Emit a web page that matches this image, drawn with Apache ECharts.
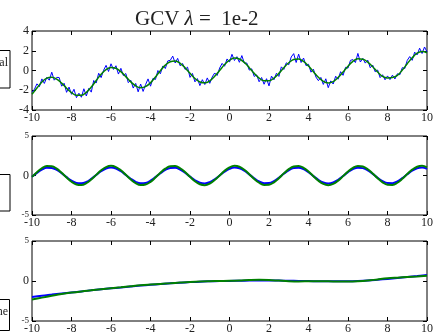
<!DOCTYPE html>
<html>
<head>
<meta charset="utf-8">
<script src="https://cdn.jsdelivr.net/npm/echarts@6/dist/echarts.min.js"></script>
<style>html,body{margin:0;padding:0;background:#fff;}#c{width:436px;height:336px;}</style>
</head>
<body>
<div id="c"></div>
<script>
// x sample positions
const xFine = [-10,-9.875,-9.75,-9.625,-9.5,-9.375,-9.25,-9.125,-9,-8.875,-8.75,-8.625,-8.5,-8.375,-8.25,-8.125,-8,-7.875,-7.75,-7.625,-7.5,-7.375,-7.25,-7.125,-7,-6.875,-6.75,-6.625,-6.5,-6.375,-6.25,-6.125,-6,-5.875,-5.75,-5.625,-5.5,-5.375,-5.25,-5.125,-5,-4.875,-4.75,-4.625,-4.5,-4.375,-4.25,-4.125,-4,-3.875,-3.75,-3.625,-3.5,-3.375,-3.25,-3.125,-3,-2.875,-2.75,-2.625,-2.5,-2.375,-2.25,-2.125,-2,-1.875,-1.75,-1.625,-1.5,-1.375,-1.25,-1.125,-1,-0.875,-0.75,-0.625,-0.5,-0.375,-0.25,-0.125,0,0.125,0.25,0.375,0.5,0.625,0.75,0.875,1,1.125,1.25,1.375,1.5,1.625,1.75,1.875,2,2.125,2.25,2.375,2.5,2.625,2.75,2.875,3,3.125,3.25,3.375,3.5,3.625,3.75,3.875,4,4.125,4.25,4.375,4.5,4.625,4.75,4.875,5,5.125,5.25,5.375,5.5,5.625,5.75,5.875,6,6.125,6.25,6.375,6.5,6.625,6.75,6.875,7,7.125,7.25,7.375,7.5,7.625,7.75,7.875,8,8.125,8.25,8.375,8.5,8.625,8.75,8.875,9,9.125,9.25,9.375,9.5,9.625,9.75,9.875,10];
const xMid = [-10,-9.75,-9.5,-9.25,-9,-8.75,-8.5,-8.25,-8,-7.75,-7.5,-7.25,-7,-6.75,-6.5,-6.25,-6,-5.75,-5.5,-5.25,-5,-4.75,-4.5,-4.25,-4,-3.75,-3.5,-3.25,-3,-2.75,-2.5,-2.25,-2,-1.75,-1.5,-1.25,-1,-0.75,-0.5,-0.25,0,0.25,0.5,0.75,1,1.25,1.5,1.75,2,2.25,2.5,2.75,3,3.25,3.5,3.75,4,4.25,4.5,4.75,5,5.25,5.5,5.75,6,6.25,6.5,6.75,7,7.25,7.5,7.75,8,8.25,8.5,8.75,9,9.25,9.5,9.75,10];
const xCoarse = [-10,-9.5,-9,-8.5,-8,-7.5,-7,-6.5,-6,-5.5,-5,-4.5,-4,-3.5,-3,-2.5,-2,-1.5,-1,-0.5,0,0.5,1,1.5,2,2.5,3,3.5,4,4.5,5,5.5,6,6.5,7,7.5,8,8.5,9,9.5,10];

// Panel 1: noisy signal (blue) and fit (green)
const signalNoisy = [-2.20,-1.89,-1.35,-1.64,-0.85,-1.31,-0.69,-0.98,-0.17,-0.98,-0.70,-0.71,-1.59,-1.29,-2.21,-1.68,-2.41,-1.90,-2.75,-2.30,-2.71,-1.85,-2.58,-1.81,-2.19,-1.01,-1.27,-0.28,-0.72,0.03,0.52,-0.10,0.68,0.11,0.48,-0.36,0.22,-0.51,-0.31,-1.23,-0.98,-1.78,-1.31,-2.16,-1.37,-2.12,-1.43,-0.85,-1.59,-0.79,-0.91,0.00,-0.33,0.46,0.20,0.97,1.03,1.46,0.76,1.23,0.48,0.71,0.11,0.34,-0.70,-0.30,-1.15,-0.82,-1.53,-0.93,-1.42,-0.75,-1.30,-0.65,-0.25,-0.50,0.25,0.72,0.43,1.17,0.85,1.64,1.01,1.40,0.83,1.51,0.74,0.76,0.04,0.17,-0.60,-0.45,-1.14,-0.71,-1.39,-0.83,-1.56,-0.57,-0.94,-0.28,-0.60,0.37,0.11,0.78,0.58,1.37,1.71,0.81,1.66,0.81,1.26,0.49,0.63,-0.17,0.13,-0.66,-1.03,-0.70,-1.41,-0.84,-1.74,-1.05,-1.37,-0.58,-0.88,-0.12,-0.49,0.32,0.24,1.03,1.10,0.81,1.73,0.86,1.23,0.75,1.05,0.28,0.55,-0.13,0.05,-0.72,-0.43,-0.94,-0.55,-0.92,-0.47,-0.86,-0.33,-0.43,0.29,0.20,1.03,1.41,1.03,1.86,1.58,2.26,1.72,2.38,1.88];
const signalFit = [-2.40,-1.77,-1.16,-0.77,-0.68,-0.87,-1.28,-1.79,-2.24,-2.51,-2.51,-2.21,-1.68,-1.02,-0.38,0.10,0.31,0.23,-0.12,-0.62,-1.15,-1.56,-1.74,-1.63,-1.25,-0.66,-0.02,0.54,0.89,0.96,0.73,0.28,-0.28,-0.81,-1.16,-1.25,-1.05,-0.59,0.00,0.60,1.05,1.26,1.17,0.82,0.29,-0.29,-0.77,-1.05,-1.05,-0.77,-0.29,0.28,0.78,1.11,1.16,0.92,0.46,-0.12,-0.69,-1.10,-1.26,-1.12,-0.71,-0.15,0.44,0.93,1.18,1.15,0.85,0.38,-0.15,-0.60,-0.75,-0.72,-0.50,0.04,0.69,1.28,1.75,1.92,1.80];

// Panel 2: periodic component, true (blue) and estimated (green)
const seasonTrue = [-0.15,0.34,0.75,0.98,0.96,0.71,0.29,-0.21,-0.65,-0.94,-0.99,-0.81,-0.42,0.07,0.54,0.88,1.00,0.88,0.54,0.07,-0.41,-0.80,-0.99,-0.94,-0.66,-0.21,0.28,0.71,0.96,0.98,0.76,0.35,-0.14,-0.60,-0.91,-1.00,-0.84,-0.48,0.00,0.48,0.84,1.00,0.91,0.60,0.14,-0.35,-0.76,-0.98,-0.96,-0.71,-0.28,0.22,0.66,0.94,0.99,0.80,0.41,-0.08,-0.55,-0.88,-1.00,-0.88,-0.54,-0.07,0.42,0.81,0.99,0.93,0.65,0.21,-0.29,-0.71,-0.96,-0.98,-0.75,-0.34,0.15,0.61,0.91,1.00,0.84];
const seasonFit = [-0.18,0.42,0.92,1.19,1.17,0.87,0.35,-0.25,-0.79,-1.14,-1.21,-0.98,-0.51,0.08,0.66,1.07,1.22,1.07,0.66,0.09,-0.50,-0.97,-1.21,-1.15,-0.81,-0.26,0.34,0.86,1.17,1.19,0.92,0.43,-0.17,-0.73,-1.11,-1.22,-1.03,-0.58,0.00,0.59,1.03,1.22,1.11,0.73,0.17,-0.43,-0.92,-1.19,-1.17,-0.86,-0.34,0.27,0.80,1.15,1.21,0.97,0.50,-0.09,-0.66,-1.07,-1.22,-1.07,-0.65,-0.08,0.51,0.98,1.21,1.14,0.79,0.25,-0.35,-0.87,-1.17,-1.19,-0.92,-0.42,0.19,0.74,1.11,1.22,1.02];

// Panel 3: trend, true (blue) and estimated (green)
const trendTrue = [-2.00,-1.84,-1.70,-1.56,-1.43,-1.30,-1.17,-1.04,-0.92,-0.80,-0.68,-0.57,-0.47,-0.38,-0.29,-0.21,-0.14,-0.08,-0.04,-0.01,0.01,0.03,0.05,0.06,0.06,0.05,0.03,0.01,-0.01,-0.03,-0.04,-0.04,-0.03,0.01,0.07,0.16,0.26,0.37,0.49,0.62,0.76];
const trendFit = [-2.30,-2.08,-1.85,-1.63,-1.45,-1.30,-1.17,-1.04,-0.91,-0.78,-0.65,-0.53,-0.44,-0.36,-0.28,-0.19,-0.11,-0.05,-0.02,0.00,0.02,0.06,0.12,0.15,0.12,0.05,-0.02,-0.05,-0.04,-0.03,-0.04,-0.06,-0.07,-0.03,0.06,0.20,0.33,0.42,0.50,0.57,0.65];

const xTicks = [-10,10,2];
const yTicksTop = [-4,4,2];
const yTicksLow = [-5,5,5];
const legendTexts = ['signal', '', 'baseline'];

const pair = (xs, ys) => xs.map((x, i) => [x, ys[i]]);
const FONT = 'Liberation Serif';
const labelStyle = {fontFamily: FONT, fontSize: 12, color: '#222'};

const grids = [
  {left: 32, right: 3, top: 31, height: 79},
  {left: 32, right: 3, top: 136, height: 79},
  {left: 32, right: 3, top: 241, height: 80}
].map(g => Object.assign(g, {show: true, borderColor: '#000', borderWidth: 1, backgroundColor: 'transparent'}));

const xAxes = [], yAxes = [];
[0,1,2].forEach(gi => {
  const base = {type: 'value', gridIndex: gi, min: xTicks[0], max: xTicks[1], interval: xTicks[2],
    splitLine: {show: false}, axisLine: {show: false, onZero: false},
    axisTick: {inside: true, length: 4, lineStyle: {color: '#000'}}};
  xAxes.push(Object.assign({}, base, {position: 'bottom',
    axisLabel: Object.assign({margin: 2, showMinLabel: true, showMaxLabel: true}, labelStyle)}));
  xAxes.push(Object.assign({}, base, {position: 'top', axisLabel: {show: false}}));
  const yt = gi === 0 ? yTicksTop : yTicksLow;
  const ybase = {type: 'value', gridIndex: gi, min: yt[0], max: yt[1], interval: yt[2],
    splitLine: {show: false}, axisLine: {show: false, onZero: false},
    axisTick: {inside: true, length: 4, lineStyle: {color: '#000'}}};
  let lab;
  if (gi === 0) {
    lab = Object.assign({margin: 3, showMinLabel: true, showMaxLabel: true}, labelStyle);
  } else {
    lab = {margin: 3, showMinLabel: true, showMaxLabel: true,
      formatter: v => v === 0 ? '{n|0}' : '{s|' + v + '}',
      rich: {n: Object.assign({}, labelStyle), s: {fontFamily: FONT, fontSize: 9, color: '#222'}}};
  }
  yAxes.push(Object.assign({}, ybase, {position: 'left', axisLabel: lab}));
  yAxes.push(Object.assign({}, ybase, {position: 'right', axisLabel: {show: false}}));
});

const BLUE = '#0000ff', GREEN = '#008000';
const line = (gi, data, color, width, smooth) => ({
  type: 'line', xAxisIndex: gi * 2, yAxisIndex: gi * 2, data, showSymbol: false, symbol: 'none',
  smooth: smooth, lineStyle: {color, width}, itemStyle: {color}, animation: false, z: 2
});

const series = [
  line(0, pair(xFine, signalNoisy), BLUE, 1, false),
  line(0, pair(xMid, signalFit), GREEN, 1.5, 0.4),
  line(1, pair(xMid, seasonTrue), BLUE, 2, 0.4),
  line(1, pair(xMid, seasonFit), GREEN, 2, 0.4),
  line(2, pair(xCoarse, trendTrue), BLUE, 2, 0.4),
  line(2, pair(xCoarse, trendFit), GREEN, 2, 0.4)
];

const chart = echarts.init(document.getElementById('c'), null, {renderer: 'canvas'});
chart.setOption({
  animation: false,
  backgroundColor: '#fff',
  title: {
    text: '{a|GCV }{b|λ}{a| =  1e-2}',
    left: 130, top: 4,
    textStyle: {rich: {
      a: {fontFamily: FONT, fontSize: 21, fontWeight: 'normal', color: '#222'},
      b: {fontFamily: FONT, fontSize: 21, fontWeight: 'normal', fontStyle: 'italic', color: '#222'}
    }}
  },
  grid: grids,
  xAxis: xAxes,
  yAxis: yAxes,
  series: series,
  graphic: [
    {type: 'rect', shape: {x: -50, y: 50.5, width: 60, height: 37.5}, style: {fill: '#fff', stroke: '#000', lineWidth: 1}},
    {type: 'text', x: 8, y: 63, style: {text: legendTexts[0], align: 'right', verticalAlign: 'middle', font: '12px "Liberation Serif"', fill: '#222'}},
    {type: 'rect', shape: {x: -50, y: 174.5, width: 60, height: 36.5}, style: {fill: '#fff', stroke: '#000', lineWidth: 1}},
    {type: 'rect', shape: {x: -50, y: 299.5, width: 59.5, height: 31}, style: {fill: '#fff', stroke: '#000', lineWidth: 1}},
    {type: 'text', x: 8, y: 311.5, style: {text: legendTexts[2], align: 'right', verticalAlign: 'middle', font: '12px "Liberation Serif"', fill: '#222'}}
  ]
});
</script>
</body>
</html>
